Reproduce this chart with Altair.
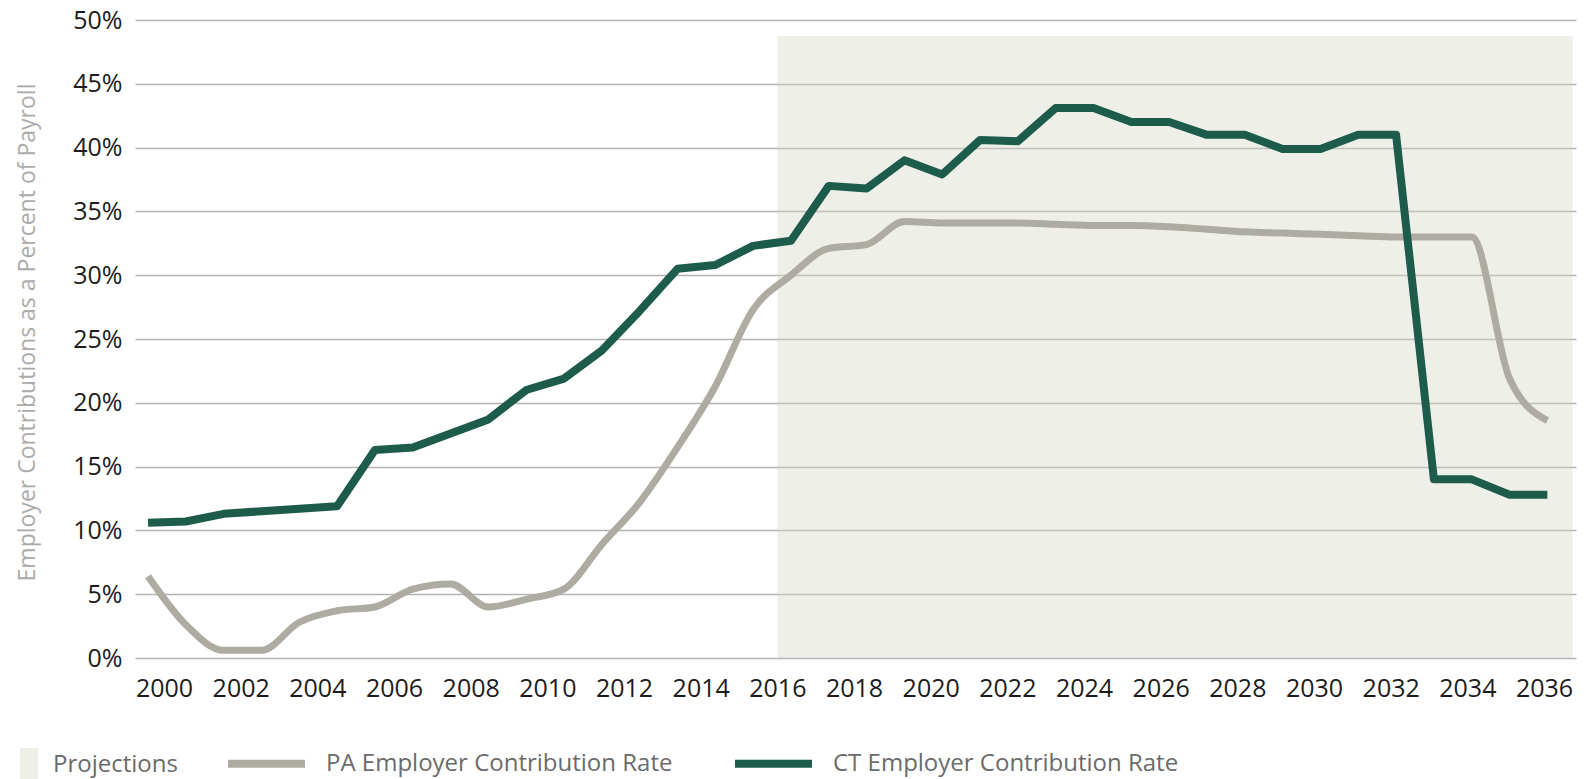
import altair as alt
import pandas as pd

# ---------------- data ----------------
years = [2000, 2001, 2002, 2003, 2004, 2005, 2006, 2007, 2008, 2009,
         2010, 2011, 2012, 2013, 2014, 2015, 2016, 2017, 2018, 2019,
         2020, 2021, 2022, 2023, 2024, 2025, 2026, 2027, 2028, 2029,
         2030, 2031, 2032, 2033, 2034, 2035, 2036, 2037]

ct_rate = [10.6, 10.7, 11.3, 11.5, 11.7, 11.9, 16.3, 16.5, 17.6, 18.7,
           21.0, 21.9, 24.1, 27.2, 30.5, 30.8, 32.3, 32.7, 37.0, 36.8,
           39.0, 37.9, 40.6, 40.5, 43.1, 43.1, 42.0, 42.0, 41.0, 41.0,
           39.9, 39.9, 41.0, 41.0, 14.0, 14.0, 12.8, 12.8]

pa_rate = [6.4, 2.6, 0.6, 0.6, 2.8, 3.7, 4.0, 5.4, 5.8, 4.0,
           4.6, 5.4, 8.9, 12.2, 16.5, 21.3, 27.3, 30.0, 32.1, 32.4,
           34.2, 34.1, 34.1, 34.1, 34.0, 33.9, 33.9, 33.8, 33.6, 33.4,
           33.3, 33.2, 33.1, 33.0, 33.0, 33.0, 21.9, 18.6]

tick_years = [2000, 2002, 2004, 2006, 2008, 2010, 2012, 2014, 2016, 2018,
              2020, 2022, 2024, 2026, 2028, 2030, 2032, 2034, 2036]
y_ticks = [0, 5, 10, 15, 20, 25, 30, 35, 40, 45, 50]

proj_label = ["Projections"]
proj_start = [2016]
proj_end = [2036.75]
proj_top = [48.75]
proj_base = [0]

PA_NAME = "PA Employer Contribution Rate"
CT_NAME = "CT Employer Contribution Rate"

# ---------------- styles ----------------
FONT = "Open Sans"
CT_COLOR = "#1d5c4a"
PA_COLOR = "#adaba2"
SHADE = "#d8d8c8"
TEXT = "#1c1c1c"
LEGEND_TEXT = "#6b6b6b"

pa_df = pd.DataFrame({"year": years, "rate": pa_rate, "series": PA_NAME})
ct_df = pd.DataFrame({"year": years, "rate": ct_rate, "series": CT_NAME})
proj_df = pd.DataFrame({"kind": proj_label, "start": proj_start, "end": proj_end,
                        "top": proj_top, "base": proj_base})

y_scale = alt.Scale(domain=[0, 50], nice=False, zero=True)
y_axis = alt.Axis(
    values=y_ticks, labelExpr="datum.value + '%'",
    grid=True, gridColor="#b3b3b3", gridWidth=1.5,
    domain=False, ticks=False, tickSize=0, labelPadding=13,
    labelFontSize=25, labelColor=TEXT, labelFont=FONT,
    title="Employer Contributions as a Percent of Payroll",
    titleFontSize=23, titleColor="#ababab", titleFont=FONT, titleFontWeight="normal",
    titleX=-108, titleY=312, titleAngle=270, titleAlign="center", titleBaseline="middle",
)

data_x_scale = alt.Scale(domain=[1999.656, 2037.757], nice=False, zero=False)
label_x_scale = alt.Scale(domain=[1999.243, 2036.834], nice=False, zero=False)

x_label_axis = alt.Axis(
    values=tick_years, format="d", orient="bottom", grid=False, domain=False,
    ticks=False, tickSize=0, labelPadding=30, labelBaseline="middle",
    labelFontSize=25, labelColor=TEXT, labelFont=FONT, title=None,
    labelFlush=False, labelOverlap=False,
)

color_scale = alt.Scale(domain=[PA_NAME, CT_NAME], range=[PA_COLOR, CT_COLOR])
color_legend = alt.Legend(
    orient="none", legendX=89, legendY=701, direction="horizontal", title=None,
    symbolType="stroke", symbolSize=5929, symbolStrokeWidth=8,
    labelFontSize=24, labelColor=LEGEND_TEXT, labelFont=FONT, labelLimit=0,
    labelOffset=17, columnPadding=46, padding=0,
)

fill_legend = alt.Legend(
    orient="none", legendX=-123, legendY=728, title=None,
    symbolType="M-0.53,-1H0.53V1H-0.53Z", symbolSize=1156, symbolOpacity=0.4,
    symbolStrokeWidth=0,
    labelFontSize=24, labelColor=LEGEND_TEXT, labelFont=FONT, labelLimit=0,
    labelOffset=7, padding=0,
)

shade = alt.Chart(proj_df).mark_rect(opacity=0.4).encode(
    x=alt.X("start:Q", scale=label_x_scale, axis=x_label_axis),
    x2="end:Q",
    y=alt.Y("top:Q", scale=y_scale, axis=y_axis),
    y2="base:Q",
    fill=alt.Fill("kind:N", scale=alt.Scale(domain=proj_label, range=[SHADE]),
                  legend=fill_legend),
)

pa_line = alt.Chart(pa_df).mark_line(strokeWidth=7, interpolate="monotone",
                                     strokeJoin="round").encode(
    x=alt.X("year:Q", scale=data_x_scale, axis=None),
    y=alt.Y("rate:Q", scale=y_scale, axis=y_axis),
    color=alt.Color("series:N", scale=color_scale, legend=color_legend),
)

ct_line = alt.Chart(ct_df).mark_line(strokeWidth=8, strokeJoin="round").encode(
    x=alt.X("year:Q", scale=data_x_scale, axis=None),
    y=alt.Y("rate:Q", scale=y_scale, axis=y_axis),
    color=alt.Color("series:N", scale=color_scale, legend=color_legend),
)

lines = alt.layer(pa_line, ct_line)

chart = alt.layer(shade, lines).resolve_scale(x="independent").properties(
    width=1441, height=638,
    autosize=alt.AutoSizeParams(type="none"),
    padding={"left": 135, "top": 20, "right": 13, "bottom": 121},
    background="white",
).configure(font=FONT).configure_view(strokeWidth=0)

chart.save("out.html", embed_options={"renderer": "svg", "actions": False})
